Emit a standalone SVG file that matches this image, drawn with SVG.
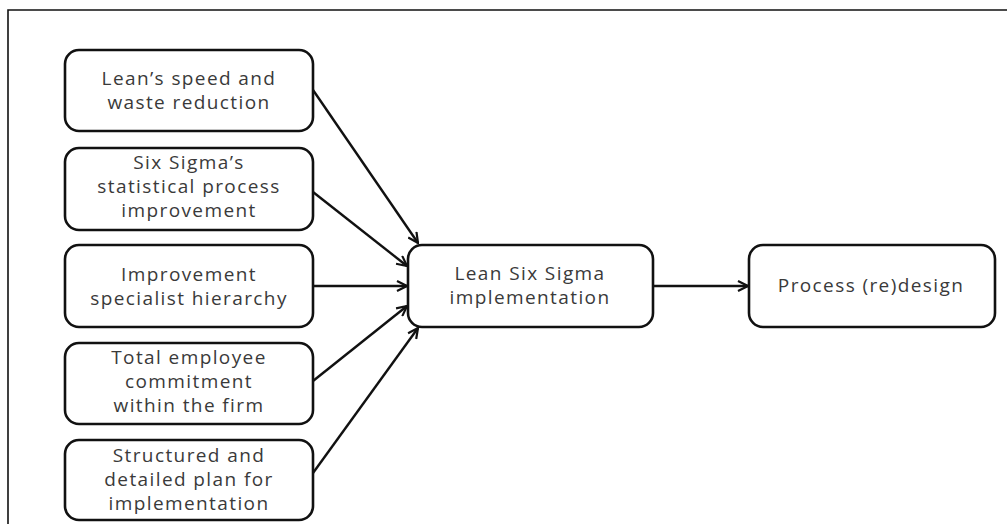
<svg xmlns="http://www.w3.org/2000/svg" width="1007" height="524" viewBox="0 0 1007 524">
  <style>
    .box { fill: #ffffff; stroke: #111111; stroke-width: 2.6; }
    .lbl { font-family: "Open Sans", "Liberation Sans", sans-serif; font-size: 19px; letter-spacing: 1.4px; fill: #3a3a3a; text-anchor: middle; }
    .edge { stroke: #111111; stroke-width: 2.4; fill: none; marker-end: url(#arrow); }
  </style>
  <defs>
    <marker id="arrow" viewBox="0 0 12 12" refX="11" refY="6" markerWidth="12" markerHeight="12" markerUnits="userSpaceOnUse" orient="auto">
      <path d="M1,1 L11,6 L1,11" fill="none" stroke="#111111" stroke-width="2.2"/>
    </marker>
  </defs>
  <rect width="1007" height="524" fill="#ffffff"/>
  <!-- frame -->
  <path d="M8,524 L8,10 L1007,10" fill="none" stroke="#111111" stroke-width="1.6"/>

  <g id="lean-speed">
    <rect class="box" x="65" y="50" width="248" height="81" rx="14"/>
    <text class="lbl" x="189" y="85">Lean’s speed and</text>
    <text class="lbl" x="189" y="109">waste reduction</text>
  </g>
  <g id="six-sigma-spi">
    <rect class="box" x="65" y="148" width="248" height="82" rx="14"/>
    <text class="lbl" x="189" y="169">Six Sigma’s</text>
    <text class="lbl" x="189" y="193">statistical process</text>
    <text class="lbl" x="189" y="217">improvement</text>
  </g>
  <g id="specialist-hierarchy">
    <rect class="box" x="65" y="245" width="248" height="82" rx="14"/>
    <text class="lbl" x="189" y="281">Improvement</text>
    <text class="lbl" x="189" y="305">specialist hierarchy</text>
  </g>
  <g id="employee-commitment">
    <rect class="box" x="65" y="343" width="248" height="81" rx="14"/>
    <text class="lbl" x="189" y="364">Total employee</text>
    <text class="lbl" x="189" y="388">commitment</text>
    <text class="lbl" x="189" y="412">within the firm</text>
  </g>
  <g id="structured-plan">
    <rect class="box" x="65" y="440" width="248" height="80" rx="14"/>
    <text class="lbl" x="189" y="462">Structured and</text>
    <text class="lbl" x="189" y="486">detailed plan for</text>
    <text class="lbl" x="189" y="510">implementation</text>
  </g>
  <g id="lss-implementation">
    <rect class="box" x="408" y="245" width="245" height="82" rx="14"/>
    <text class="lbl" x="530" y="280">Lean Six Sigma</text>
    <text class="lbl" x="530" y="304">implementation</text>
  </g>
  <g id="process-redesign">
    <rect class="box" x="749" y="245" width="246" height="82" rx="14"/>
    <text class="lbl" x="871" y="292">Process (re)design</text>
  </g>

  <g id="connectors">
    <line class="edge" x1="313" y1="90" x2="418" y2="243"/>
    <line class="edge" x1="313" y1="192" x2="407" y2="266"/>
    <line class="edge" x1="313" y1="286" x2="407" y2="286"/>
    <line class="edge" x1="313" y1="381" x2="407" y2="306"/>
    <line class="edge" x1="313" y1="473" x2="418" y2="328"/>
    <line class="edge" x1="653" y1="286" x2="748" y2="286"/>
  </g>
</svg>
